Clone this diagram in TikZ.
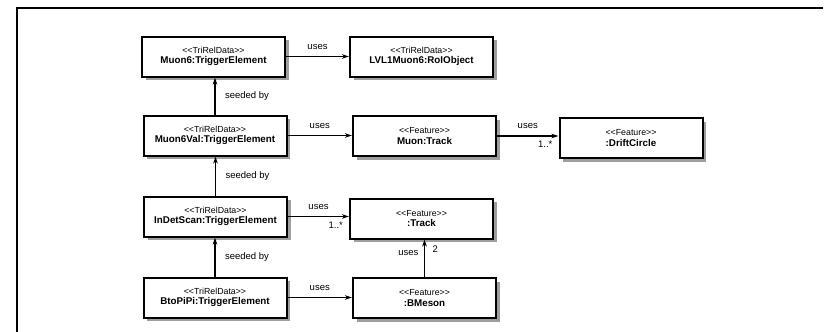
\documentclass[tikz,border=0pt]{standalone}
\usepackage{fontspec}
\setmainfont{Liberation Sans}
\usetikzlibrary{arrows.meta,shadows,positioning}
\newcommand{\stereo}[1]{{\mdseries\fontsize{8.8}{11}\selectfont\textless\kern0pt\textless\kern0pt#1\kern0pt\textgreater\kern0pt\textgreater}}
\begin{document}
\begin{tikzpicture}[x=1pt, y=-1pt,
  every node/.style={font=\fontsize{9.5}{11}\selectfont},
  obj/.style={draw, line width=2pt, fill=white, minimum width=143pt, minimum height=40pt,
    align=center, inner sep=1pt, font=\fontsize{9.8}{10.5}\selectfont\bfseries,
    drop shadow={shadow xshift=3.5pt, shadow yshift=-3.5pt, fill=black!38, opacity=1}},
  link/.style={line width=1.5pt, -{Stealth[length=7pt, width=4.5pt]}}]
  \useasboundingbox (0,0) rectangle (825,332);
  \draw[line width=1.3pt] (17,332) -- (17,8) -- (823,8);
  \node[obj] (m6) at (213.5,56.5) {\stereo{TriRelData}\\Muon6:TriggerElement};
  \node[obj] (lvl1) at (421.5,56.5) {\stereo{TriRelData}\\LVL1Muon6:RoIObject};
  \node[obj] (m6val) at (215,135.5) {\stereo{TriRelData}\\Muon6Val:TriggerElement};
  \node[obj] (mtrack) at (424.5,136) {\stereo{Feature}\\Muon:Track};
  \node[obj] (drift) at (631,138) {\stereo{Feature}\\:DriftCircle};
  \node[obj] (indet) at (215.5,216.5) {\stereo{TriRelData}\\InDetScan:TriggerElement};
  \node[obj] (track) at (421.5,218.5) {\stereo{Feature}\\:Track};
  \node[obj] (btopipi) at (215,297.5) {\stereo{TriRelData}\\BtoPiPi:TriggerElement};
  \node[obj] (bmeson) at (424.5,298) {\stereo{Feature}\\:BMeson};
  \draw[link] (m6.east) -- (m6.east -| lvl1.west) node[midway, above=3pt] {uses};
  \draw[link] (m6val.north) -- (m6val.north |- m6.south) node[midway, right=6pt] {seeded by};
  \draw[link] (m6val.east) -- (m6val.east -| mtrack.west) node[midway, above=3pt] {uses};
  \draw[link] (mtrack.east) -- (mtrack.east -| drift.west) node[midway, above=3pt] {uses}
    node[pos=1, below left=1pt and 2pt] {1..*};
  \draw[link] (indet.north) -- (indet.north |- m6val.south) node[midway, right=6pt] {seeded by};
  \draw[link] (indet.east) -- (indet.east -| track.west) node[midway, above=3pt] {uses}
    node[pos=1, below left=1pt and 2pt] {1..*};
  \draw[link] (btopipi.north) -- (btopipi.north |- indet.south) node[midway, right=6pt] {seeded by};
  \draw[link] (btopipi.east) -- (btopipi.east -| bmeson.west) node[midway, above=3pt] {uses};
  \draw[link] (bmeson.north) -- (bmeson.north |- track.south) node[midway, left=2pt, yshift=5pt] {uses}
    node[pos=1, below right=2pt and 4pt] {2};
\end{tikzpicture}
\end{document}
